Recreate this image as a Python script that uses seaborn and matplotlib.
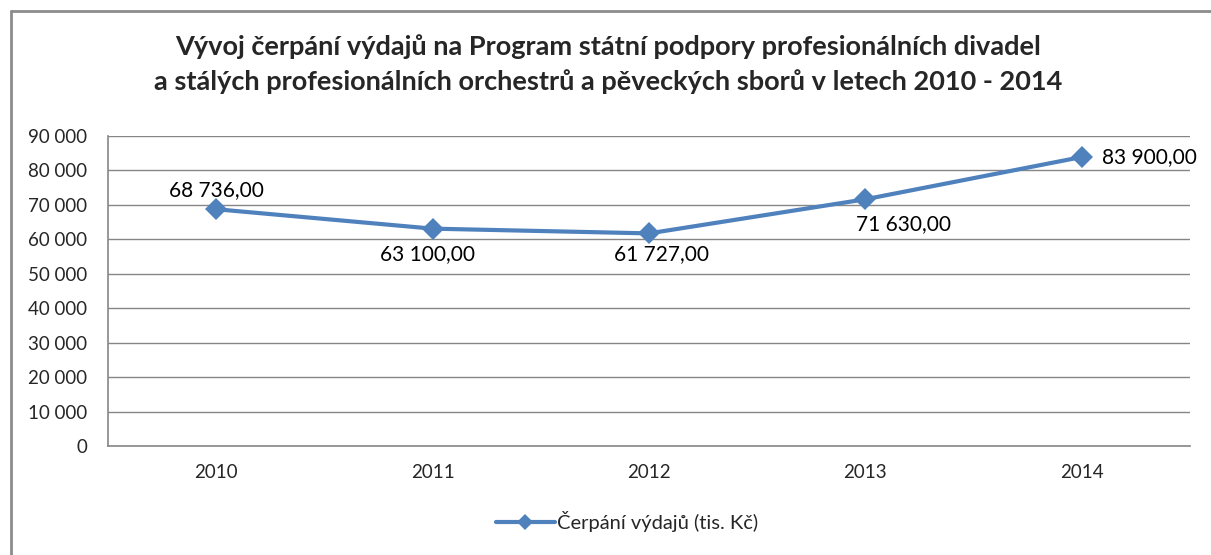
import matplotlib
matplotlib.use("Agg")
import matplotlib.pyplot as plt
import seaborn as sns
import pandas as pd
from matplotlib.lines import Line2D

years = ["2010", "2011", "2012", "2013", "2014"]
values = [68736.00, 63100.00, 61727.00, 71630.00, 83900.00]
series_name = "Čerpání výdajů (tis. Kč)"
title_line1 = "Vývoj čerpání výdajů na Program státní podpory profesionálních divadel"
title_line2 = "a stálých profesionálních orchestrů a pěveckých sborů v letech 2010 - 2014"
y_ticks = [0, 10000, 20000, 30000, 40000, 50000, 60000, 70000, 80000, 90000]

sns.set_style("white")
plt.rcParams['font.family'] = ['Lato', 'DejaVu Sans']

df = pd.DataFrame({"x": list(range(len(years))), "rok": years, "hodnota": values})

fig = plt.figure(figsize=(12.11, 5.55), dpi=100)
ax = fig.add_axes([108/1211, 1-446/555, (1190-108)/1211, (446-136)/555])

color = "#4F81BD"
grid_c = "#868686"
sns.lineplot(data=df, x="x", y="hodnota", ax=ax, color=color, linewidth=3,
             marker="D", markersize=11, markeredgewidth=0, zorder=3)

ax.set_xlim(-0.5, len(years) - 0.5)
ax.set_ylim(0, 90000)
ax.set_yticks(y_ticks)
ax.set_yticklabels([f"{v:,}".replace(",", " ") for v in y_ticks], fontsize=13.5)
ax.set_xticks(range(len(years)))
ax.set_xticklabels(years, fontsize=13.5)
ax.tick_params(axis='x', length=0, pad=13)
ax.tick_params(axis='y', length=7, width=1, color=grid_c, direction='out', pad=8)
# category boundary ticks
ax.set_xticks([i - 0.5 for i in range(len(years) + 1)], minor=True)
ax.tick_params(axis='x', which='minor', length=7, width=1, color=grid_c, direction='out')
ax.set_xlabel("")
ax.set_ylabel("")
ax.grid(axis='y', color=grid_c, linewidth=1)
ax.set_axisbelow(True)
for s in ["top", "right"]:
    ax.spines[s].set_visible(False)
for s in ["left", "bottom"]:
    ax.spines[s].set_color(grid_c)
    ax.spines[s].set_linewidth(1.2)

# data labels (offsets in pixels)
offsets = [(0, 19, 'center'), (-5, -25, 'center'), (12, -21, 'center'),
           (38, -25, 'center'), (20, 0, 'left')]
for i, v in enumerate(values):
    dx, dy, ha = offsets[i]
    lbl = f"{v:,.2f}".replace(",", " ").replace(".", ",")
    ax.annotate(lbl, (i, v), xytext=(dx, dy), textcoords='offset pixels',
                ha=ha, va='center', fontsize=15, color="black")

fig.text(608/1211, 1-47/555, title_line1, fontsize=19.5, fontweight='bold', ha='center', va='center')
fig.text(608/1211, 1-82/555, title_line2, fontsize=19.5, fontweight='bold', ha='center', va='center')

handle = Line2D([0], [0], color=color, linewidth=3, marker="D", markersize=8, markeredgewidth=0)
fig.legend([handle], [series_name], loc='center', bbox_to_anchor=(627/1211, 1-522/555),
           frameon=False, fontsize=14.5, handlelength=2.9, handletextpad=0.1)

# figure border (left & top)
fig.add_artist(Line2D([11/1211, 11/1211], [0, 1-11/555], color="#8c8c8c", linewidth=2, transform=fig.transFigure))
fig.add_artist(Line2D([11/1211, 1], [1-11/555, 1-11/555], color="#8c8c8c", linewidth=2, transform=fig.transFigure))

fig.savefig("out.png", dpi=100)
